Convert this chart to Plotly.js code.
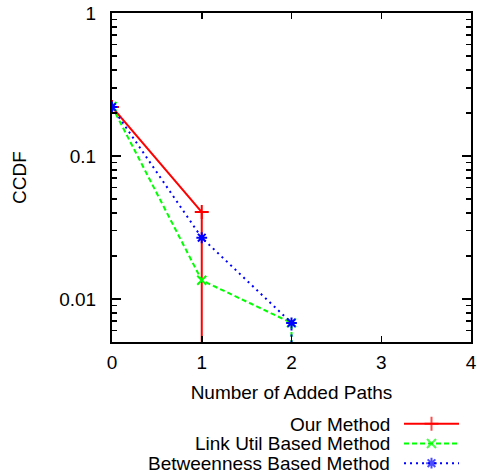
<!DOCTYPE html>
<html><head><meta charset="utf-8">
<script src="https://cdn.plot.ly/plotly-3.0.1.min.js"></script>
<style>html,body{margin:0;padding:0;background:#fff}</style>
</head><body><div id="chart" style="width:477px;height:474px"></div>
<script>
// Data
const seriesNames = ["Our Method", "Link Util Based Method", "Betweenness Based Method"];
const ourX = [0, 1, 1];
const ourY = [0.22, 0.0405, 0.0001];
const linkX = [0, 1, 2, 2];
const linkY = [0.222, 0.0135, 0.0068, 0.0001];
const betwX = [0, 1, 2, 2];
const betwY = [0.22, 0.0268, 0.0068, 0.0001];
const xTicks = [0, 1, 2, 3, 4];
const yTickVals = [0.01, 0.1, 1];
const yTickText = ["0.01", "0.1", "1"];

const colors = ["#ff0000", "#00ff00", "#0000ff"];
const dashes = ["solid", "5px,3px", "2px,4px"];
const symbols = ["cross-thin-open", "x-thin-open", "asterisk-open"];
const msizes = [10, 9, 9];
const xs = [ourX, linkX, betwX];
const ys = [ourY, linkY, betwY];

const W = 477, H = 474, T = 13, B = 0, L = 112, R = 6;
const areaH = H - T - B, areaW = W - L - R;
const plotBottomPx = 342;

const traces = [];
for (let i = 0; i < 3; i++) {
  traces.push({
    x: xs[i], y: ys[i], type: "scatter", mode: "lines+markers", name: seriesNames[i],
    line: {color: colors[i], width: 2, dash: dashes[i]},
    marker: {symbol: symbols[i], size: msizes[i], color: colors[i], line: {color: colors[i], width: 2}},
    showlegend: false, cliponaxis: true
  });
}
// Legend samples (gnuplot style: text on the left, sample on the right)
const legendRowsY = [2, 1, 0];
const legendRowsPx = [424, 443.5, 463];
const annotations = [];
for (let i = 0; i < 3; i++) {
  traces.push({
    x: [0, 0.5, 1], y: [legendRowsY[i], legendRowsY[i], legendRowsY[i]],
    xaxis: "x2", yaxis: "y2", type: "scatter", mode: "lines+markers", showlegend: false,
    line: {color: colors[i], width: 2, dash: dashes[i]},
    marker: {symbol: symbols[i], size: [0, msizes[i], 0], color: colors[i], line: {color: colors[i], width: 2}},
    hoverinfo: "skip", cliponaxis: false
  });
  annotations.push({
    xref: "paper", yref: "paper", x: (392 - L) / areaW, y: (H - B - legendRowsPx[i]) / areaH,
    text: seriesNames[i], showarrow: false, xanchor: "right", yanchor: "middle",
    font: {family: "Liberation Sans, Arial, sans-serif", size: 19, color: "#000"}
  });
}

const font = {family: "Liberation Sans, Arial, sans-serif", size: 19, color: "#000"};
const layout = {
  width: W, height: H,
  margin: {l: L, r: R, t: T, b: B},
  paper_bgcolor: "#fff", plot_bgcolor: "#fff",
  font: font,
  showlegend: false,
  xaxis: {
    range: [0, 4], tickvals: xTicks, ticktext: xTicks.map(String),
    ticks: "inside", ticklen: 6, tickwidth: 1.5, tickcolor: "#000",
    showline: true, linecolor: "#000", linewidth: 2, mirror: "ticks",
    showgrid: false, zeroline: false, anchor: "y",
    title: {text: "Number of Added Paths", font: font, standoff: 14},
    ticklabelstandoff: 2
  },
  yaxis: {
    type: "log", range: [Math.log10(0.005), 0],
    domain: [(H - B - plotBottomPx) / areaH, 1], anchor: "x",
    tickvals: yTickVals, ticktext: yTickText,
    ticks: "inside", ticklen: 9, tickwidth: 1.5, tickcolor: "#000",
    minor: {ticks: "inside", ticklen: 5, tickwidth: 1.5, tickcolor: "#000", dtick: "D1", showgrid: false},
    showline: true, linecolor: "#000", linewidth: 2, mirror: "ticks",
    showgrid: false, zeroline: false,
    title: {text: "CCDF", font: font, standoff: 28},
    ticklabelstandoff: 10
  },
  xaxis2: {domain: [(404 - L) / areaW, (459 - L) / areaW], range: [0, 1], visible: false, anchor: "y2", fixedrange: true},
  yaxis2: {domain: [(H - B - 473) / areaH, (H - B - 414) / areaH], range: [-0.5, 2.5], visible: false, anchor: "x2", fixedrange: true},
  annotations: annotations
};
Plotly.newPlot("chart", traces, layout, {staticPlot: true, displayModeBar: false});
</script></body></html>
